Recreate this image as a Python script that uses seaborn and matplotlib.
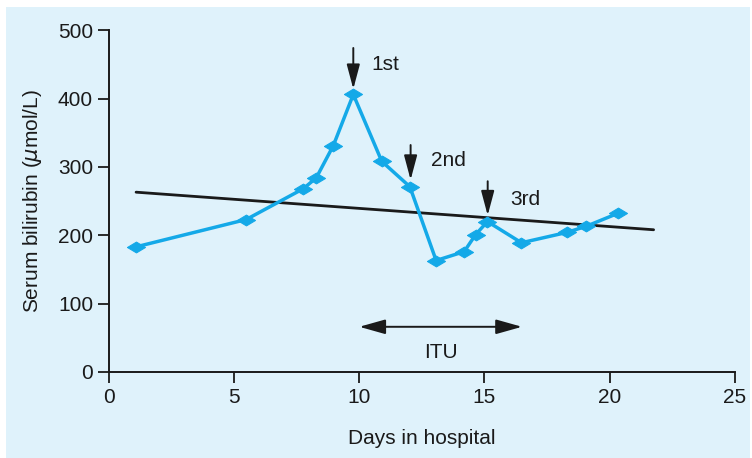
import numpy as np
import pandas as pd
import matplotlib
matplotlib.use('Agg')
import matplotlib.pyplot as plt
from matplotlib.patches import Rectangle
import seaborn as sns

# values
days = [1.08, 5.48, 7.76, 8.28, 8.96, 9.76, 10.9, 12.02, 13.07, 14.19, 14.65, 15.12, 16.48, 18.28, 19.06, 20.33]
bilirubin = [183, 223, 268, 284, 331, 406, 308, 271, 163, 176, 201, 220, 189, 204, 213, 232]

trend_days = [1.08, 21.76]
trend_vals = [263, 208]

# treatment arrows: label, day, tip value, tail value, text position
doses = ['1st', '2nd', '3rd']
dose_days = [9.76, 12.05, 15.13]
dose_tips = [414, 281, 229]
dose_tails = [474, 332, 279]
label_xy = [(10.5, 450), (12.85, 309), (16.05, 252)]

itu_start, itu_end = 10.0, 16.5
itu_level = 66

sns.set_style('ticks')
plt.rcParams['font.family'] = ['Liberation Sans', 'DejaVu Sans']

blue_bg = '#dff2fb'
line_col = '#14a9e8'
ink = '#1a1a1a'

fig = plt.figure(figsize=(7.52, 4.58), dpi=100)
fig.patch.set_facecolor('white')
fig.patches.append(Rectangle((6 / 752, 0), 744 / 752, 451 / 458, transform=fig.transFigure,
                             facecolor=blue_bg, edgecolor='none', zorder=-10))
ax = fig.add_axes([0.145, 0.188, 0.832, 0.746])
ax.set_facecolor('none')

df = pd.DataFrame({'day': days, 'bili': bilirubin})
diamond = [(-1, 0), (0, 0.6), (1, 0), (0, -0.6), (-1, 0)]
sns.lineplot(data=df, x='day', y='bili', sort=False, color=line_col, lw=2.5,
             marker=diamond, markersize=13, markeredgecolor=line_col, ax=ax, zorder=3)
sns.lineplot(x=trend_days, y=trend_vals, color=ink, lw=2.0, ax=ax, zorder=2)

for lab, d, tip, tail, (tx, ty) in zip(doses, dose_days, dose_tips, dose_tails, label_xy):
    ax.annotate('', xy=(d, tip), xytext=(d, tail),
                arrowprops=dict(arrowstyle='-|>,head_length=1.5,head_width=0.4',
                                color=ink, lw=1.4, shrinkA=0, shrinkB=0))
    ax.text(tx, ty, lab, fontsize=15, color=ink, va='center', ha='left')

ax.annotate('', xy=(itu_start, itu_level), xytext=(itu_end, itu_level),
            arrowprops=dict(arrowstyle='<|-|>,head_length=1.6,head_width=0.45',
                            color=ink, lw=1.4, shrinkA=0, shrinkB=0))
ax.text((itu_start + itu_end) / 2, 29, 'ITU', fontsize=15, ha='center', va='center', color=ink)

ax.set_xlim(0, 25)
ax.set_ylim(0, 500)
ax.set_xticks([0, 5, 10, 15, 20, 25])
ax.set_yticks([0, 100, 200, 300, 400, 500])
ax.tick_params(labelsize=15, length=8, width=1.3, colors=ink)
ax.set_xlabel('Days in hospital', fontsize=15, labelpad=16, color=ink)
ax.set_ylabel('Serum bilirubin ($\\mu$mol/L)', fontsize=15, labelpad=10, color=ink)
sns.despine(ax=ax)
for s in ['left', 'bottom']:
    ax.spines[s].set_linewidth(1.4)
    ax.spines[s].set_color(ink)

fig.savefig('out.png', dpi=100, facecolor=fig.get_facecolor())
